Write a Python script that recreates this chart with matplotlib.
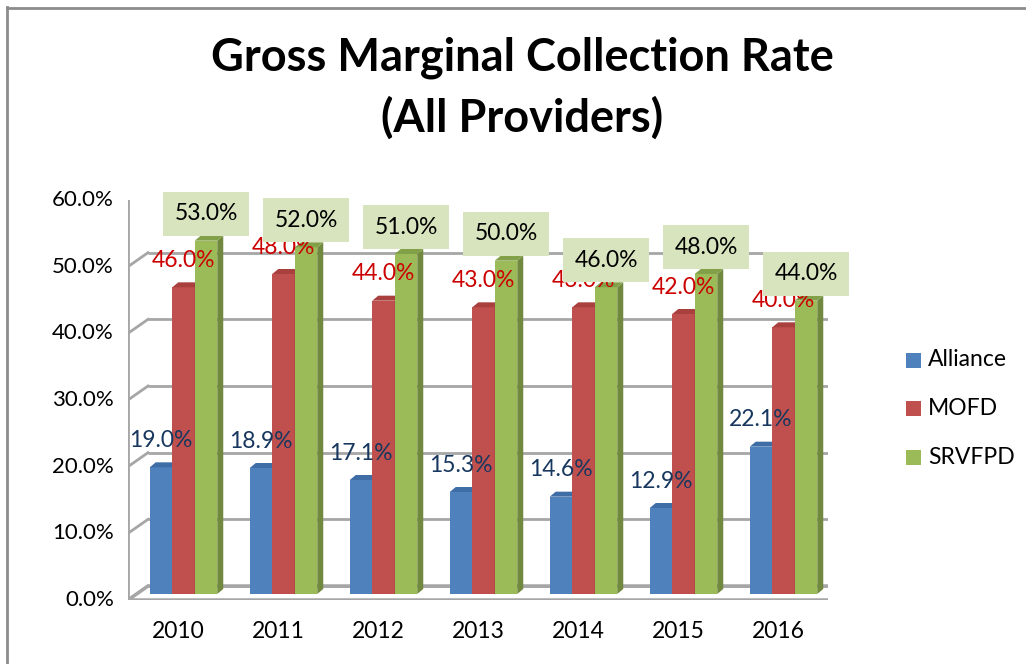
import matplotlib.pyplot as plt
from matplotlib.patches import Polygon, Rectangle
import numpy as np

plt.rcParams["font.family"] = ["Lato", "DejaVu Sans"]

anos = ["2010", "2011", "2012", "2013", "2014", "2015", "2016"]
series = ["Alliance", "MOFD", "SRVFPD"]
alliance = [19.0, 18.9, 17.1, 15.3, 14.6, 12.9, 22.1]
mofd = [46.0, 48.0, 44.0, 43.0, 43.0, 42.0, 40.0]
srvfpd = [53.0, 52.0, 51.0, 50.0, 46.0, 48.0, 44.0]
yticks = [0, 10, 20, 30, 40, 50, 60]

valores = [alliance, mofd, srvfpd]
cores = ["#4F81BD", "#C0504D", "#9BBB59"]
lados = ["#385D8A", "#8C3836", "#71893F"]
topos = ["#3F6DA6", "#A8413E", "#82A048"]
cores_txt = ["#17375E", "#CC0000", "#000000"]

fig = plt.figure(figsize=(10.26, 6.64), dpi=100)
# eixo = plano frontal do grafico 3d (px 128..828, 200..600)
ax = fig.add_axes([128 / 1026, 64 / 664, 700 / 1026, 400 / 664])
ax.set_xlim(-0.5, 6.5)
ax.set_ylim(0, 60)
ax.axis("off")

# px -> unidades de dados
px_x = 7 / 700
px_y = 60 / 400
DX, DY = 20 * px_x, 14 * px_y      # profundidade da parede
BX, BY = 5.5 * px_x, 6 * px_y      # plano das barras
dx, dy = 6 * px_x, 5 * px_y        # profundidade das barras
gc = "#A6A6A6"

# piso
ax.add_patch(Polygon([(-0.5, 0), (6.5, 0), (6.5 + DX, DY), (-0.5 + DX, DY)],
                     closed=True, facecolor="white", edgecolor=gc, lw=2.5, zorder=1))
# grade da parede de tras e parede esquerda
for v in yticks:
    ax.plot([-0.5 + DX, 6.5 + DX], [v + DY, v + DY], color=gc, lw=2, zorder=1,
            solid_capstyle="butt")
    ax.plot([-0.5, -0.5 + DX], [v, v + DY], color=gc, lw=2, zorder=1)
ax.plot([-0.5, -0.5], [0, 60], color=gc, lw=2, zorder=1)

w = 0.225
x = np.arange(len(anos))
z = 2
for j in range(len(anos)):
    for i in range(3):
        v = valores[i][j]
        x0 = j - 1.5 * w + i * w + BX
        x1 = x0 + w
        ax.bar(x0, v, width=w, bottom=BY, align="edge", color=cores[i], zorder=z)
        ax.add_patch(Polygon([(x1, BY), (x1 + dx, BY + dy), (x1 + dx, BY + v + dy), (x1, BY + v)],
                             closed=True, facecolor=lados[i], edgecolor="none", zorder=z))
        ax.add_patch(Polygon([(x0, BY + v), (x1, BY + v), (x1 + dx, BY + v + dy), (x0 + dx, BY + v + dy)],
                             closed=True, facecolor=topos[i], edgecolor="none", zorder=z))
        z += 1

# rotulos
for j in range(len(anos)):
    for i in range(3):
        v = valores[i][j]
        xc = j - w + i * w + BX
        kw = {}
        if i == 2:
            kw["bbox"] = dict(boxstyle="square,pad=0.5", facecolor="#D7E4BD", edgecolor="none")
        ax.text(xc, BY + v + 27 * px_y, f"{v:.1f}%", ha="center", va="center",
                fontsize=16.5, color=cores_txt[i], zorder=100, **kw)

for v in yticks:
    ax.text(-0.5 - 14 * px_x, v, f"{v:.1f}%", ha="right", va="center", fontsize=16)
for j, a in enumerate(anos):
    ax.text(j, -32 * px_y, a, ha="center", va="center", fontsize=16.5)

# legenda
for i, s in enumerate(series):
    yy = 360 + i * 48.5
    fig.patches.append(Rectangle((906 / 1026, 1 - (yy + 7.5) / 664), 15 / 1026, 15 / 664,
                                 transform=fig.transFigure, facecolor=cores[i], edgecolor="none"))
    fig.text(928 / 1026, 1 - yy / 664, s, ha="left", va="center", fontsize=16.5)

fig.text(522 / 1026, 1 - 88 / 664, "Gross Marginal Collection Rate\n(All Providers)",
         ha="center", va="center", fontsize=32.5, fontweight="bold", linespacing=1.5)

# moldura
fig.add_artist(plt.Line2D([6.5 / 1026, 6.5 / 1026], [0, 1 - 7 / 664], color="#8C8C8C", lw=2))
fig.add_artist(plt.Line2D([6.5 / 1026, 1], [1 - 7.5 / 664, 1 - 7.5 / 664], color="#8C8C8C", lw=2))

fig.savefig("out.png", dpi=100)
